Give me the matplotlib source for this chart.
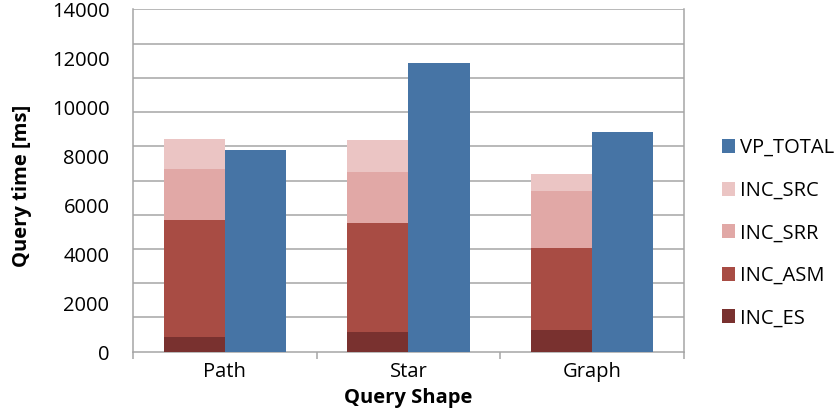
import matplotlib
matplotlib.use("Agg")
import matplotlib.pyplot as plt
import matplotlib.transforms as mtransforms
import numpy as np

categories = ["Path", "Star", "Graph"]
inc_es = [590, 820, 890]
inc_asm = [4790, 4440, 3350]
inc_srr = [2090, 2070, 2330]
inc_src = [1230, 1310, 695]
vp_total = [8260, 11790, 9000]

y_ticks = [0, 2000, 4000, 6000, 8000, 10000, 12000, 14000]
y_max = 14000
grid_step = 1400

colors = {
    "VP_TOTAL": "#4674A5",
    "INC_SRC": "#EBC5C4",
    "INC_SRR": "#E1A8A6",
    "INC_ASM": "#A84C44",
    "INC_ES": "#79312F",
}

plt.rcParams["font.family"] = ["Open Sans", "DejaVu Sans"]
FS = 14.5

fig = plt.figure(figsize=(8.38, 4.16), dpi=100)
ax = fig.add_axes([0.1587, 0.1546, 0.6575, 0.823])

x = np.arange(len(categories))
w = 1 / 3
xs = x - w / 2
xv = x + w / 2

bottom = np.zeros(len(categories))
stack = [("INC_ES", inc_es), ("INC_ASM", inc_asm), ("INC_SRR", inc_srr), ("INC_SRC", inc_src)]
handles = {}
for name, vals in stack:
    vals = np.array(vals, dtype=float)
    handles[name] = ax.bar(xs, vals, w, bottom=bottom, color=colors[name],
                           edgecolor="none", zorder=3, label=name)
    bottom += vals
handles["VP_TOTAL"] = ax.bar(xv, vp_total, w, color=colors["VP_TOTAL"],
                             edgecolor="none", zorder=3, label="VP_TOTAL")

ax.set_xlim(-0.5, len(categories) - 0.5)
ax.set_ylim(0, y_max)

grid_c = "#A6A6A6"
for yg in np.arange(grid_step, y_max + 1, grid_step):
    ax.axhline(yg, color=grid_c, lw=1.1, zorder=1)

for s in ["left", "bottom", "right", "top"]:
    ax.spines[s].set_color(grid_c)
    ax.spines[s].set_linewidth(1.1)
ax.spines["top"].set_visible(False)

ax.set_yticks(y_ticks)
ax.set_yticklabels([str(v) for v in y_ticks], fontsize=FS, color="#000000")
ax.tick_params(axis="y", length=0, pad=17)
shift_down = mtransforms.ScaledTranslation(0, -3 / 100, fig.dpi_scale_trans)
for lbl in ax.get_yticklabels():
    lbl.set_verticalalignment("center")
    lbl.set_transform(lbl.get_transform() + shift_down)

ax.set_xticks(x)
ax.set_xticklabels(categories, fontsize=FS)
ax.tick_params(axis="x", which="major", length=0, pad=7.5)
ax.set_xticks(np.arange(-0.5, len(categories)), minor=True)
ax.tick_params(axis="x", which="minor", length=5, width=1.1, color=grid_c, direction="out")

ax.set_xlabel("Query Shape", fontsize=FS, fontweight="bold", va="center")
ax.xaxis.set_label_coords(0.5, -0.134)
ax.set_ylabel("Query time [ms]", fontsize=FS, fontweight="bold", va="center")
ax.yaxis.set_label_coords(-0.2015, 0.484)

order = ["VP_TOTAL", "INC_SRC", "INC_SRR", "INC_ASM", "INC_ES"]
fig.legend([handles[k] for k in order], order, loc="upper left",
           bbox_to_anchor=(0.861, 0.668), frameon=False, fontsize=FS,
           handlelength=0.69, handleheight=0.69, handletextpad=0.25,
           labelspacing=1.12, borderaxespad=0, borderpad=0)

fig.savefig("out.png", dpi=100)
